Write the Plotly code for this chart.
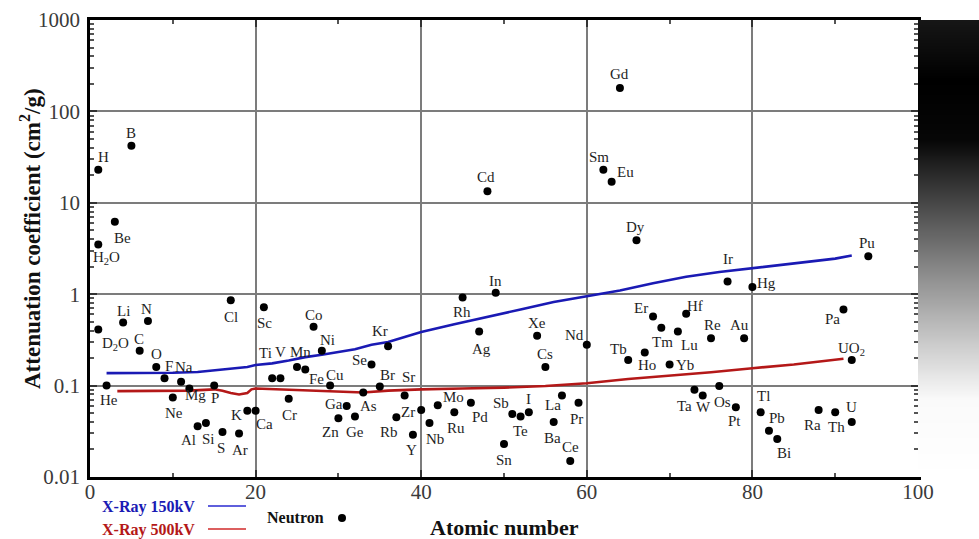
import numpy as np
import plotly.graph_objects as go

# ---------------- data ----------------
elements = ["H", "H2O", "D2O", "He", "Be", "Li", "B", "C", "N", "O", "F", "Ne", "Na", "Mg",
            "Al", "Si", "P", "S", "Cl", "Ar", "K", "Ca", "Sc", "Ti", "V", "Cr", "Mn", "Fe",
            "Co", "Ni", "Cu", "Zn", "Ga", "Ge", "As", "Se", "Br", "Kr", "Rb", "Sr", "Y",
            "Zr", "Nb", "Mo", "Ru", "Rh", "Pd", "Ag", "Cd", "In", "Sn", "Sb", "Te", "I",
            "Xe", "Cs", "Ba", "La", "Ce", "Pr", "Nd", "Sm", "Eu", "Gd", "Tb", "Dy", "Ho",
            "Er", "Tm", "Yb", "Lu", "Hf", "Ta", "W", "Re", "Os", "Ir", "Pt", "Au", "Hg",
            "Tl", "Pb", "Bi", "Ra", "Th", "Pa", "U", "UO2", "Pu"]
atomic_number = [1, 1, 1, 2, 3, 4, 5, 6, 7, 8, 9, 10, 11, 12,
                 13, 14, 15, 16, 17, 18, 19, 20, 21, 22, 23, 24, 25, 26,
                 27, 28, 29, 30, 31, 32, 33, 34, 35, 36, 37, 38, 39,
                 40, 41, 42, 44, 45, 46, 47, 48, 49, 50, 51, 52, 53,
                 54, 55, 56, 57, 58, 59, 60, 62, 63, 64, 65, 66, 67,
                 68, 69, 70, 71, 72, 73, 74, 75, 76, 77, 78, 79, 80,
                 81, 82, 83, 88, 90, 91, 92, 92, 94]
neutron_coeff = [23, 3.5, 0.41, 0.10, 6.2, 0.49, 42, 0.24, 0.51, 0.16, 0.12, 0.074, 0.11, 0.093,
                 0.036, 0.039, 0.10, 0.031, 0.86, 0.030, 0.053, 0.053, 0.72, 0.12, 0.12, 0.072, 0.16, 0.15,
                 0.44, 0.24, 0.10, 0.044, 0.060, 0.046, 0.084, 0.17, 0.098, 0.27, 0.045, 0.078, 0.029,
                 0.054, 0.039, 0.061, 0.051, 0.92, 0.065, 0.39, 13.4, 1.04, 0.023, 0.049, 0.046, 0.051,
                 0.35, 0.16, 0.040, 0.078, 0.015, 0.065, 0.28, 23, 17, 180, 0.19, 3.9, 0.23,
                 0.57, 0.43, 0.17, 0.39, 0.61, 0.090, 0.078, 0.33, 0.099, 1.38, 0.058, 0.33, 1.2,
                 0.051, 0.032, 0.026, 0.054, 0.051, 0.68, 0.040, 0.19, 2.6]

xray150_z = [2, 6, 10, 13, 15, 17, 19, 20, 22, 24, 26, 28, 30, 32, 34, 36, 38, 40,
             44, 48, 52, 56, 60, 64, 68, 72, 76, 80, 85, 90, 92]
xray150_coeff = [0.137, 0.137, 0.138, 0.141, 0.148, 0.155, 0.160, 0.168, 0.175, 0.188, 0.205,
                 0.218, 0.232, 0.250, 0.280, 0.300, 0.340, 0.385, 0.470, 0.560, 0.680, 0.820,
                 0.950, 1.10, 1.32, 1.55, 1.75, 1.93, 2.19, 2.45, 2.65]

xray500_z = [3.3, 8, 12, 15, 16, 17, 18, 19, 19.5, 20, 24, 28, 30, 33, 36, 40, 45, 50,
             55, 60, 65, 70, 75, 80, 85, 91]
xray500_coeff = [0.087, 0.088, 0.088, 0.091, 0.088, 0.083, 0.080, 0.083, 0.091, 0.093, 0.090,
                 0.088, 0.087, 0.084, 0.088, 0.091, 0.093, 0.095, 0.099, 0.106, 0.118, 0.128,
                 0.140, 0.155, 0.170, 0.197]

x_ticks = [0, 20, 40, 60, 80, 100]
y_ticks = [0.01, 0.1, 1, 10, 100, 1000]
y_tick_text = ["0.01", "0.1", "1", "10", "100", "1000"]

# ---------------- styling (label placement in px) ----------------
display_name = {"H2O": "H<sub>2</sub>O", "D2O": "D<sub>2</sub>O", "UO2": "UO<sub>2</sub>"}
label_offset = {
    "H": (5, 13), "H2O": (8, -14), "D2O": (17, -14), "He": (2, -14), "Be": (8, -16),
    "Li": (0, 12), "B": (0, 13), "C": (-1, 12), "N": (-1, 12), "O": (0, 13), "F": (4, 12),
    "Ne": (1, -15), "Na": (3, 15), "Mg": (6, -7), "Al": (-9, -14), "Si": (3, -16),
    "P": (1, -12), "S": (-1, -16), "Cl": (0, -17), "Ar": (1, -17), "K": (-11, -4),
    "Ca": (9, -13), "Sc": (1, -16), "Ti": (-7, 25), "V": (0, 26), "Cr": (1, -16),
    "Mn": (3, 15), "Fe": (11, -9), "Co": (0, 12), "Ni": (6, 11), "Cu": (5, 11),
    "Zn": (-8, -14), "Ga": (-13, 2), "Ge": (0, -16), "As": (5, -13), "Se": (-12, 5),
    "Br": (8, 11), "Kr": (-8, 15), "Rb": (-7, -15), "Sr": (4, 18), "Y": (-1, -15),
    "Zr": (-13, -2), "Nb": (6, -16), "Mo": (16, 8), "Ru": (2, -16), "Rh": (-1, -14),
    "Pd": (9, -14), "Ag": (2, -17), "Cd": (-1, 14), "In": (0, 12), "Sn": (0, -16),
    "Sb": (-11, 11), "Te": (0, -15), "I": (0, 13), "Xe": (0, 13), "Cs": (0, 13),
    "Ba": (-1, -16), "La": (-9, -10), "Ce": (0, 14), "Pr": (-2, -16), "Nd": (-12, 10),
    "Sm": (-4, 13), "Eu": (14, 10), "Gd": (0, 14), "Tb": (-10, 11), "Dy": (-1, 13),
    "Ho": (2, -12), "Er": (-12, 9), "Tm": (1, -14), "Yb": (15, 0), "Lu": (12, -13),
    "Hf": (9, 8), "Ta": (-10, -16), "W": (1, -12), "Re": (1, 13), "Os": (3, -16),
    "Ir": (0, 22), "Pt": (-1, -14), "Au": (-5, 13), "Hg": (14, 4), "Tl": (3, 16),
    "Pb": (8, 13), "Bi": (7, -14), "Ra": (-6, -15), "Th": (1, -15), "Pa": (-11, -9),
    "U": (0, 15), "UO2": (0, 11), "Pu": (-1, 13),
}

SERIF = "Liberation Serif"
W, H = 979, 539
P_LEFT, P_RIGHT, P_TOP, P_BOTTOM = 90, 918, 20, 477   # plot area (window pixels)
ML, MT, MR = P_LEFT, P_TOP, 0
MB = H - P_BOTTOM
FULL_W = W - ML - MR         # plot area incl. gradient strip
PH = P_BOTTOM - P_TOP
MAIN_FRAC = (P_RIGHT - P_LEFT) / FULL_W


def px(xp):
    return (xp - P_LEFT) / FULL_W


def py(yp):
    return (P_BOTTOM - yp) / PH


fig = go.Figure()

fig.add_trace(go.Scatter(x=xray150_z, y=xray150_coeff, mode="lines",
                         line=dict(color="#1a1ab4", width=2.6), showlegend=False,
                         hoverinfo="skip"))
fig.add_trace(go.Scatter(x=xray500_z, y=xray500_coeff, mode="lines",
                         line=dict(color="#b41818", width=2.6), showlegend=False,
                         hoverinfo="skip"))
fig.add_trace(go.Scatter(x=atomic_number, y=neutron_coeff, mode="markers",
                         marker=dict(color="black", size=8), showlegend=False,
                         text=elements, hoverinfo="text+y"))

# decorative grey gradient strip on the right
grad_levels = np.linspace(0, 1, 60)
fig.add_trace(go.Heatmap(
    z=[[v, v] for v in grad_levels], x=[0, 1], y=grad_levels, xaxis="x2", yaxis="y2",
    zmin=0, zmax=1, showscale=False, hoverinfo="skip", zsmooth="best",
    colorscale=[[0, "#ffffff"], [0.17, "#fafafa"], [0.3, "#c8c8c8"], [0.45, "#8a8a8a"],
                [0.6, "#474747"], [0.74, "#060606"], [0.87, "#000000"], [1, "#161616"]]))

annotations = []
for name, z, v in zip(elements, atomic_number, neutron_coeff):
    dx, dy = label_offset.get(name, (0, 12))
    annotations.append(dict(
        x=z, y=np.log10(v), xref="x", yref="y", text=display_name.get(name, name),
        showarrow=False, xshift=dx, yshift=dy,
        font=dict(family=SERIF, size=15, color="#1e1e1e"),
    ))

# axis titles
annotations.append(dict(x=px(504), y=py(527), xref="paper", yref="paper",
                        text="<b>Atomic number</b>", showarrow=False,
                        font=dict(family=SERIF, size=22, color="#111"),
                        xanchor="center", yanchor="middle"))
annotations.append(dict(x=px(30), y=py(239), xref="paper", yref="paper",
                        text="<b>Attenuation coefficient (cm<sup>2</sup>/g)</b>",
                        showarrow=False, textangle=-90,
                        font=dict(family=SERIF, size=23, color="#111"),
                        xanchor="center", yanchor="middle"))

# custom legend
annotations.append(dict(x=px(100), y=py(507), xref="paper", yref="paper",
                        text="<b>X-Ray 150kV</b>", showarrow=False, xanchor="left",
                        yanchor="middle", font=dict(family=SERIF, size=16, color="#1a1ab4")))
annotations.append(dict(x=px(100), y=py(530), xref="paper", yref="paper",
                        text="<b>X-Ray 500kV</b>", showarrow=False, xanchor="left",
                        yanchor="middle", font=dict(family=SERIF, size=16, color="#b41818")))
annotations.append(dict(x=px(265), y=py(517), xref="paper", yref="paper",
                        text="<b>Neutron</b>", showarrow=False, xanchor="left",
                        yanchor="middle", font=dict(family=SERIF, size=16, color="#111")))

shapes = [
    dict(type="line", xref="paper", yref="paper", x0=px(208), x1=px(246), y0=py(506), y1=py(506),
         line=dict(color="#2a2ad0", width=1.5)),
    dict(type="line", xref="paper", yref="paper", x0=px(208), x1=px(246), y0=py(529), y1=py(529),
         line=dict(color="#d02a2a", width=1.5)),
    dict(type="circle", xref="paper", yref="paper", x0=px(338), x1=px(346), y0=py(514), y1=py(522),
         fillcolor="black", line=dict(color="black", width=0)),
]

minor_y = [m * 10.0 ** e for e in range(-2, 3) for m in range(2, 10)]

fig.update_layout(
    width=W, height=H, autosize=False,
    margin=dict(l=ML, r=MR, t=MT, b=MB, pad=0, autoexpand=False),
    paper_bgcolor="white", plot_bgcolor="white",
    annotations=annotations, shapes=shapes,
    font=dict(family=SERIF),
    xaxis=dict(domain=[0, MAIN_FRAC], range=[0, 100], tickvals=x_ticks, ticks="inside",
               ticklen=7, tickwidth=1.5, tickcolor="#333", showgrid=True, gridcolor="#7c7c7c",
               gridwidth=1.5, showline=True, linecolor="black", linewidth=2.5, mirror="ticks",
               zeroline=False, tickfont=dict(family=SERIF, size=21, color="#3a3a3a"),
               ticklabelstandoff=-6, automargin=False,
               minor=dict(dtick=10, ticks="inside", ticklen=4, tickcolor="#555", showgrid=False)),
    yaxis=dict(type="log", range=[-2, 3], tickvals=y_ticks, ticktext=y_tick_text,
               ticks="inside", ticklen=7, tickwidth=1.5, tickcolor="#333",
               showgrid=True, gridcolor="#7c7c7c", gridwidth=1.5,
               showline=True, linecolor="black", linewidth=2.5, mirror="ticks",
               zeroline=False, tickfont=dict(family=SERIF, size=21, color="#3a3a3a"),
               ticklabelstandoff=3, automargin=False,
               minor=dict(tickvals=minor_y, ticks="inside", ticklen=4, tickcolor="#555",
                          showgrid=False)),
    xaxis2=dict(domain=[MAIN_FRAC, 1], range=[0, 1], visible=False, fixedrange=True,
                automargin=False),
    yaxis2=dict(anchor="x2", range=[0, 1], visible=False, fixedrange=True, automargin=False),
)

page_fix = ("document.body.style.margin='0';document.body.style.padding='0';"
            "document.body.style.overflow='hidden';"
            "document.documentElement.style.overflow='hidden';")

fig.write_html("out.html", config={"responsive": False, "displayModeBar": False},
               post_script=page_fix)
